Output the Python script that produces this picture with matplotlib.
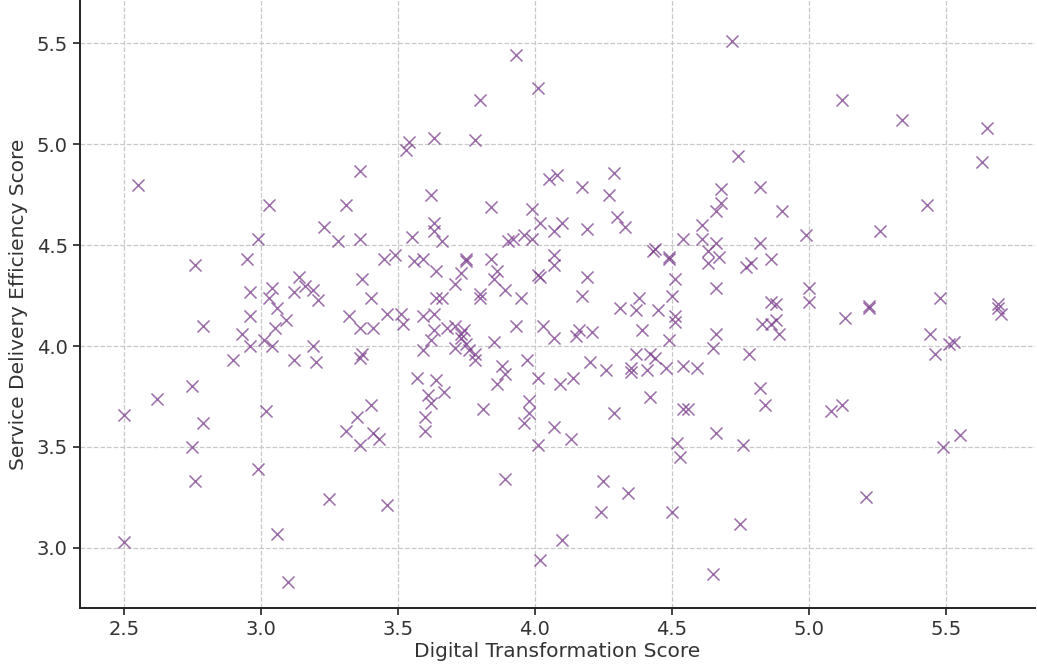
import matplotlib
matplotlib.use("Agg")
import matplotlib.pyplot as plt

digital_score = [
    2.50, 2.50, 2.55, 2.62, 2.75, 2.76, 2.75, 2.76, 2.79, 2.79,
    2.90, 2.93, 2.95, 2.96, 2.96, 2.96, 2.99, 2.99, 3.01, 3.02,
    3.03, 3.03, 3.04, 3.04, 3.05, 3.06, 3.06, 3.09, 3.10, 3.12,
    3.12, 3.14, 3.16, 3.19, 3.19, 3.20, 3.21, 3.23, 3.25, 3.28,
    3.31, 3.31, 3.32, 3.35, 3.36, 3.36, 3.36, 3.37, 3.37, 3.36,
    3.36, 3.40, 3.40, 3.41, 3.41, 3.43, 3.45, 3.46, 3.46, 3.49,
    3.51, 3.52, 3.53, 3.54, 3.55, 3.56, 3.57, 3.59, 3.59, 3.59,
    3.60, 3.60, 3.61, 3.62, 3.62, 3.62, 3.63, 3.63, 3.63, 3.63,
    3.63, 3.64, 3.64, 3.64, 3.66, 3.66, 3.67, 3.68, 3.71, 3.71,
    3.71, 3.73, 3.73, 3.73, 3.74, 3.75, 3.75, 3.75, 3.76, 3.78,
    3.78, 3.78, 3.80, 3.80, 3.80, 3.81, 3.84, 3.84, 3.85, 3.85,
    3.86, 3.86, 3.88, 3.89, 3.89, 3.89, 3.90, 3.92, 3.93, 3.93,
    3.95, 3.96, 3.96, 3.97, 3.98, 3.98, 3.99, 3.99, 4.01, 4.01,
    4.01, 4.01, 4.02, 4.02, 4.02, 4.03, 4.05, 4.07, 4.07, 4.07,
    4.07, 4.07, 4.08, 4.09, 4.10, 4.10, 4.13, 4.14, 4.15, 4.16,
    4.17, 4.17, 4.19, 4.19, 4.20, 4.21, 4.24, 4.25, 4.26, 4.27,
    4.29, 4.29, 4.30, 4.31, 4.33, 4.34, 4.35, 4.35, 4.37, 4.37,
    4.38, 4.39, 4.41, 4.42, 4.42, 4.43, 4.44, 4.44, 4.45, 4.48,
    4.49, 4.49, 4.49, 4.50, 4.50, 4.51, 4.51, 4.51, 4.52, 4.53,
    4.54, 4.54, 4.54, 4.56, 4.59, 4.61, 4.61, 4.63, 4.63, 4.65,
    4.65, 4.66, 4.66, 4.66, 4.66, 4.66, 4.67, 4.68, 4.68, 4.72,
    4.74, 4.75, 4.76, 4.77, 4.79, 4.78, 4.82, 4.82, 4.82, 4.83,
    4.84, 4.86, 4.86, 4.86, 4.88, 4.88, 4.89, 4.90, 4.99, 5.00,
    5.00, 5.08, 5.12, 5.12, 5.13, 5.21, 5.22, 5.22, 5.26, 5.34,
    5.43, 5.44, 5.46, 5.48, 5.49, 5.51, 5.53, 5.55, 5.63, 5.65,
    5.69, 5.69, 5.70,
]

efficiency_score = [
    3.66, 3.03, 4.80, 3.74, 3.80, 4.40, 3.50, 3.33, 4.10, 3.62,
    3.93, 4.06, 4.43, 4.27, 4.15, 4.00, 4.53, 3.39, 4.03, 3.68,
    4.70, 4.24, 4.29, 4.00, 4.09, 4.19, 3.07, 4.13, 2.83, 4.27,
    3.93, 4.34, 4.30, 4.28, 4.00, 3.92, 4.23, 4.59, 3.24, 4.52,
    4.70, 3.58, 4.15, 3.65, 4.87, 4.53, 4.09, 4.33, 3.96, 3.94,
    3.51, 4.24, 3.71, 4.09, 3.57, 3.54, 4.43, 4.16, 3.21, 4.45,
    4.16, 4.11, 4.97, 5.01, 4.54, 4.42, 3.84, 4.43, 4.15, 3.98,
    3.65, 3.58, 3.76, 4.75, 4.03, 3.72, 5.03, 4.61, 4.57, 4.16,
    4.08, 4.37, 4.24, 3.83, 4.52, 4.24, 3.77, 4.09, 4.31, 4.10,
    3.99, 4.36, 4.06, 4.04, 4.08, 4.43, 4.42, 4.01, 3.98, 5.02,
    3.96, 3.93, 5.22, 4.26, 4.24, 3.69, 4.69, 4.43, 4.33, 4.02,
    4.37, 3.81, 3.90, 4.28, 3.86, 3.34, 4.52, 4.53, 5.44, 4.10,
    4.24, 4.55, 3.62, 3.93, 3.73, 3.67, 4.68, 4.53, 5.28, 4.35,
    3.84, 3.51, 4.61, 4.34, 2.94, 4.10, 4.83, 4.57, 4.45, 4.40,
    4.04, 3.60, 4.85, 3.81, 4.61, 3.04, 3.54, 3.84, 4.05, 4.08,
    4.79, 4.25, 4.58, 4.34, 3.92, 4.07, 3.18, 3.33, 3.88, 4.75,
    4.86, 3.67, 4.64, 4.19, 4.59, 3.27, 3.87, 3.89, 4.18, 3.96,
    4.24, 4.08, 3.88, 3.96, 3.75, 4.47, 4.48, 3.94, 4.18, 3.89,
    4.44, 4.43, 4.03, 4.25, 3.18, 4.33, 4.15, 4.12, 3.52, 3.45,
    4.53, 3.90, 3.69, 3.69, 3.89, 4.60, 4.53, 4.47, 4.41, 3.99,
    2.87, 4.51, 4.29, 4.06, 3.57, 4.67, 4.44, 4.78, 4.71, 5.51,
    4.94, 3.12, 3.51, 4.39, 4.41, 3.96, 4.79, 4.51, 3.79, 4.11,
    3.71, 4.43, 4.22, 4.11, 4.21, 4.13, 4.06, 4.67, 4.55, 4.29,
    4.22, 3.68, 5.22, 3.71, 4.14, 3.25, 4.20, 4.19, 4.57, 5.12,
    4.70, 4.06, 3.96, 4.24, 3.50, 4.01, 4.02, 3.56, 4.91, 5.08,
    4.21, 4.19, 4.16,
]

x_ticks = [2.5, 3.0, 3.5, 4.0, 4.5, 5.0, 5.5]
y_ticks = [3.0, 3.5, 4.0, 4.5, 5.0, 5.5]

W, H = 1037, 664
fig = plt.figure(figsize=(W / 100, H / 100), dpi=100)
left_px, right_px, bottom_px, top_px = 79.5, 1035, 608, 0
ax = fig.add_axes([left_px / W, (H - bottom_px) / H,
                   (right_px - left_px) / W, (bottom_px - top_px) / H])

ax.scatter(digital_score, efficiency_score, marker="x", s=75,
           color="#7a3b8c", alpha=0.75, linewidths=1.1, zorder=3)

ax.set_xlim(2.338, 5.825)
ax.set_ylim(2.702, 5.715)
ax.set_xticks(x_ticks)
ax.set_yticks(y_ticks)
ax.set_xticklabels([f"{v:.1f}" for v in x_ticks])
ax.set_yticklabels([f"{v:.1f}" for v in y_ticks])

ax.grid(True, linestyle="--", color="#c8c8c8", linewidth=0.9, zorder=0)
ax.set_axisbelow(True)

for side in ("top", "right"):
    ax.spines[side].set_visible(False)
for side in ("left", "bottom"):
    ax.spines[side].set_linewidth(1.4)
    ax.spines[side].set_color("#222222")

ax.tick_params(axis="both", labelsize=14, length=5, width=1.2, color="#222222",
               labelcolor="#333333")
ax.set_xlabel("Digital Transformation Score", fontsize=14.5, color="#333333", labelpad=2)
ax.set_ylabel("Service Delivery Efficiency Score", fontsize=14.5, color="#333333", labelpad=6)

fig.savefig("out.png", dpi=100)
